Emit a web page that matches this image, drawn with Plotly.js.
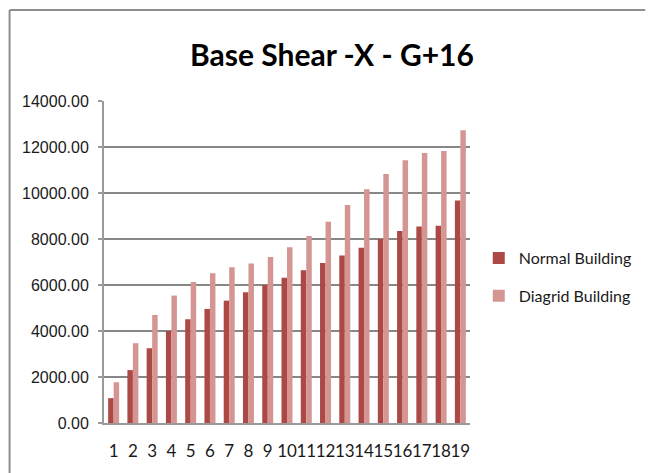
<!DOCTYPE html>
<html>
<head>
<meta charset="utf-8">
<script src="https://cdn.plot.ly/plotly-3.0.1.min.js"></script>
<style>
  html, body { margin: 0; padding: 0; background: #ffffff; }
  #chart { width: 649px; height: 473px; }
</style>
</head>
<body>
<div id="chart"></div>
<script>
const chartTitle = "Base Shear -X - G+16";
const categories = ["1","2","3","4","5","6","7","8","9","10","11","12","13","14","15","16","17","18","19"];
const seriesNames = ["Normal Building", "Diagrid Building"];
const normalValues = [1080, 2300, 3250, 4000, 4510, 4960, 5320, 5680, 6000, 6320, 6640, 6960, 7280, 7620, 8000, 8350, 8540, 8580, 9670];
const diagridValues = [1770, 3470, 4700, 5540, 6130, 6510, 6770, 6940, 7220, 7640, 8130, 8750, 9480, 10160, 10830, 11420, 11740, 11830, 12730];
const yTickValues = [0, 2000, 4000, 6000, 8000, 10000, 12000, 14000];

const colorNormal = "#AC4845";
const colorDiagrid = "#D49593";
const gridColor = "#878787";
const borderColor = "#8E8E8E";

const traces = [
  { type: "bar", name: seriesNames[0], x: categories, y: normalValues,
    marker: { color: colorNormal }, legendgroup: "a" },
  { type: "bar", name: seriesNames[1], x: categories, y: diagridValues,
    marker: { color: colorDiagrid }, legendgroup: "b" }
];

// plot area in pixels: x 104..480, y 101..423
const L = 104, R = 480, T = 101, B = 423;
const px = v => (v - L) / (R - L);
const py = v => (B - v) / (B - T);

const layout = {
  width: 649, height: 473,
  margin: { l: L, r: 649 - R, t: T, b: 473 - B, pad: 0 },
  paper_bgcolor: "#ffffff", plot_bgcolor: "#ffffff",
  barmode: "group", bargap: 0.43, bargroupgap: 0,
  showlegend: true,
  title: {
    text: chartTitle,
    x: 332 / 649, xanchor: "center", xref: "container",
    y: 1 - 55 / 473, yanchor: "middle", yref: "container",
    font: { family: "Lato, Open Sans, sans-serif", size: 30, color: "#000000", weight: "bold" }
  },
  xaxis: {
    type: "category",
    tickmode: "array", tickvals: categories, ticktext: categories,
    tickangle: 0,
    showgrid: false, zeroline: false,
    showline: true, linecolor: "#9A9A9A", linewidth: 2,
    ticks: "", ticklen: 0,
    ticklabelstandoff: 12,
    tickfont: { family: "Lato, Open Sans, sans-serif", size: 17, color: "#1a1a1a" },
    fixedrange: true
  },
  yaxis: {
    range: [0, 14000],
    tickvals: yTickValues,
    tickformat: ".2f",
    showgrid: true, gridcolor: gridColor, gridwidth: 2,
    zeroline: false,
    showline: true, linecolor: "#9A9A9A", linewidth: 2,
    ticks: "outside", ticklen: 4, tickcolor: "#9A9A9A", tickwidth: 2,
    tickfont: { family: "Liberation Sans, Arial, sans-serif", size: 16, color: "#1a1a1a" },
    ticklabelstandoff: 6,
    fixedrange: true
  },
  legend: {
    x: px(489), xanchor: "left",
    y: py(277), yanchor: "middle",
    traceorder: "grouped", tracegroupgap: 14,
    font: { family: "Lato, Open Sans, sans-serif", size: 16, color: "#1a1a1a" },
    bgcolor: "rgba(0,0,0,0)", borderwidth: 0
  },
  shapes: [
    { type: "line", xref: "paper", yref: "paper", x0: px(7), x1: px(660), y0: py(10), y1: py(10),
      line: { color: borderColor, width: 2 } },
    { type: "line", xref: "paper", yref: "paper", x0: px(7), x1: px(7), y0: py(10), y1: py(480),
      line: { color: borderColor, width: 2 } }
  ]
};

Plotly.newPlot("chart", traces, layout, { displayModeBar: false, staticPlot: true });
</script>
</body>
</html>
